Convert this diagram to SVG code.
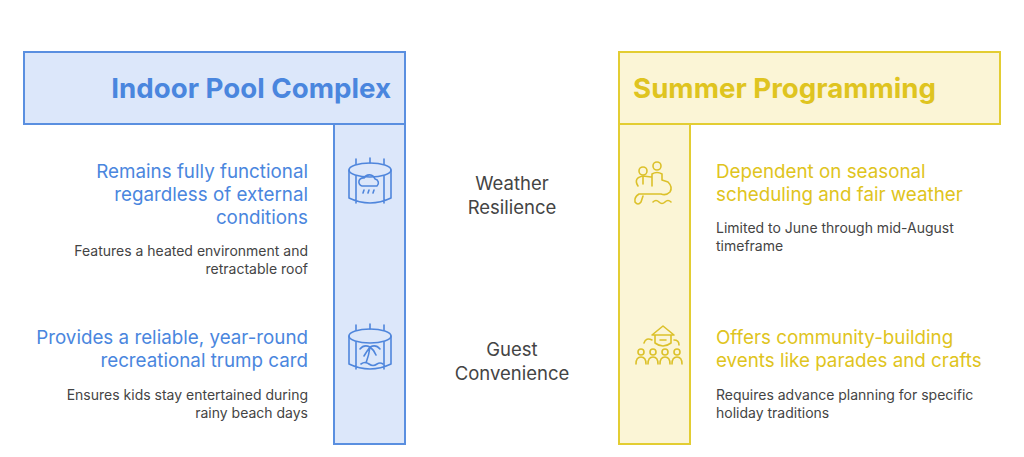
<svg xmlns="http://www.w3.org/2000/svg" width="1024" height="457" viewBox="0 0 1024 457">
<style>
.b{fill:#dce7fa;stroke:#5a8fe0;stroke-width:2}
.y{fill:#fbf5d6;stroke:#e3cd32;stroke-width:2}
.ib{fill:none;stroke:#4f86dc;stroke-width:1.6;stroke-linecap:round;stroke-linejoin:round}
.iy{fill:none;stroke:#dcc12a;stroke-width:1.6;stroke-linecap:round;stroke-linejoin:round}
text{font-family:Inter,Roboto,"Liberation Sans",sans-serif}
.h{font-size:27.7px;font-weight:bold}
.m{font-size:18.8px}
.s{font-size:14px;fill:#444}
.c{font-size:18.5px;fill:#444;text-anchor:middle}
</style>
<rect width="1024" height="457" fill="#fff"/>
<g id="indoor">
<rect class="b" x="334" y="124" width="71" height="320"/>
<rect class="b" x="24" y="52" width="381" height="72"/>
<text class="h" x="391" y="98" text-anchor="end" fill="#4a86de">Indoor Pool Complex</text>
<g fill="#4a86de" class="m" text-anchor="end">
<text x="308" y="178">Remains fully functional</text>
<text x="308" y="201">regardless of external</text>
<text x="308" y="224">conditions</text>
<text x="308" y="344">Provides a reliable, year-round</text>
<text x="308" y="367">recreational trump card</text>
</g>
<g class="s" text-anchor="end">
<text x="308" y="256">Features a heated environment and</text>
<text x="308" y="274">retractable roof</text>
<text x="308" y="400">Ensures kids stay entertained during</text>
<text x="308" y="418">rainy beach days</text>
</g>
<g class="ib">
<ellipse cx="370" cy="170" rx="21" ry="7"/><path d="M349 170v28q21 10 42 0v-28M356 176v27M384 176v27M356 164v-5M370 163v-5M384 164v-5"/>
<path d="M362 186a4 4 0 0 1 2-8a6 6 0 0 1 11 1a4 4 0 0 1 2 7z M364 190l-1 3M369 190l-1 3M374 190l-1 3"/>
<ellipse cx="370" cy="336" rx="21" ry="7"/><path d="M349 336v28q21 10 42 0v-28M356 342v27M384 342v27M356 330v-5M370 329v-5M384 330v-5"/>
<path d="M370 347q-1 8 -4 16M370 347q-6-3-10 2M370 347q6-3 10 2M370 347q-3 4-6 9M370 347q4 3 6 8M361 364q4-3 8 0q4 3 8 0q3-2 6 0"/>
</g>
</g>
<g id="summer">
<rect class="y" x="619" y="124" width="71" height="320"/>
<rect class="y" x="619" y="52" width="381" height="72"/>
<text class="h" x="633" y="98" fill="#dfc420">Summer Programming</text>
<g fill="#dfc420" class="m">
<text x="716" y="178">Dependent on seasonal</text>
<text x="716" y="201">scheduling and fair weather</text>
<text x="716" y="344">Offers community-building</text>
<text x="716" y="367">events like parades and crafts</text>
</g>
<g class="s">
<text x="716" y="233">Limited to June through mid-August</text>
<text x="716" y="251">timeframe</text>
<text x="716" y="400">Requires advance planning for specific</text>
<text x="716" y="418">holiday traditions</text>
</g>
<g class="iy">
<circle cx="643" cy="171" r="4"/><circle cx="657" cy="166" r="4"/>
<path d="M638 186q-5-8 5-10l8 1M643 176v8M652 186v-12q5-3 10 0v6M662 180l6 2q5 5 2 10q-4 4-9 2h-22q-5 3-4 8q3 4 6 0l2-6M653 202q3-3 6 0q3 3 6 0q3-3 6 0"/>
<path d="M652 335l11-9l11 9zM655 335v8q8 6 16 0v-8M660 340h6M652 340q-6-3-8 3M674 340q5 0 5 5"/>
<circle cx="641" cy="352" r="3"/><circle cx="653" cy="352" r="3"/><circle cx="665" cy="352" r="3"/><circle cx="677" cy="352" r="3"/>
<path d="M636 364q0-7 5-7q5 0 5 7M648 364q0-7 5-7q5 0 5 7M660 364q0-7 5-7q5 0 5 7M672 364q0-7 5-7q5 0 5 7"/>
</g>
</g>
<g id="labels">
<text class="c" x="512" y="190">Weather</text>
<text class="c" x="512" y="214">Resilience</text>
<text class="c" x="512" y="356">Guest</text>
<text class="c" x="512" y="380">Convenience</text>
</g>
</svg>
